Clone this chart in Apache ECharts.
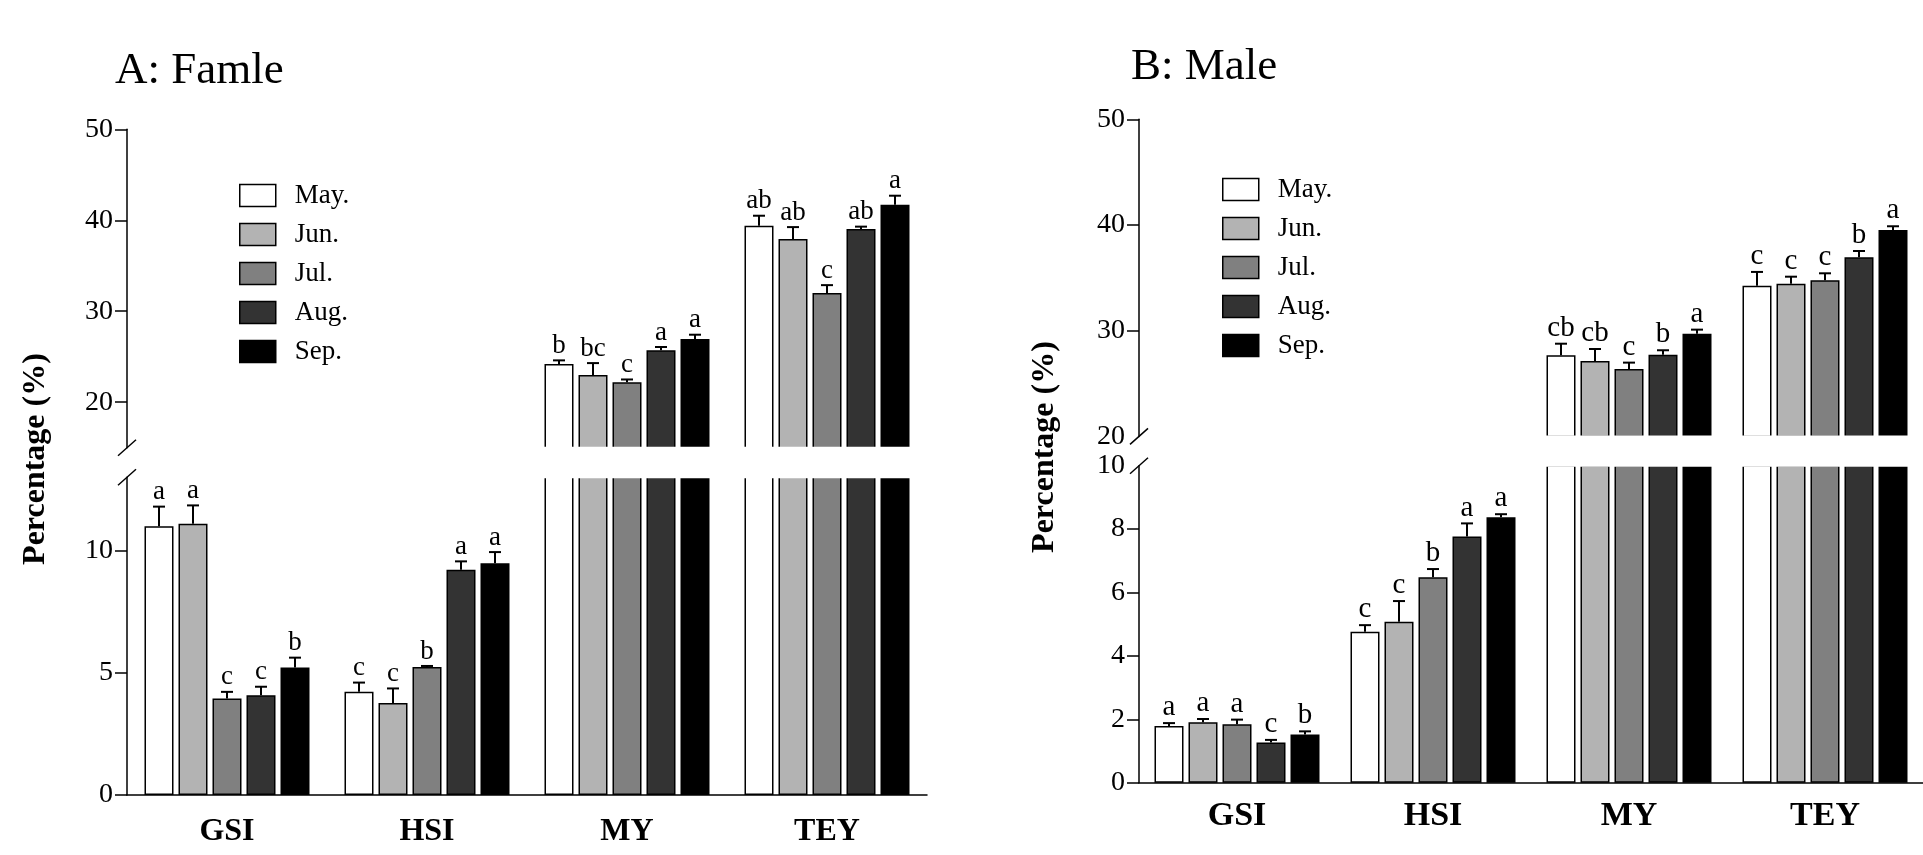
<!DOCTYPE html>
<html>
<head>
<meta charset="utf-8">
<script src="https://cdn.jsdelivr.net/npm/echarts@6/dist/echarts.min.js"></script>
<style>
  html, body { margin: 0; padding: 0; background: #fff; }
  #chart { width: 1923px; height: 855px; }
</style>
</head>
<body>
<div id="chart"></div>
<script>
const categories = ['GSI', 'HSI', 'MY', 'TEY'];
const months = ['May.', 'Jun.', 'Jul.', 'Aug.', 'Sep.'];

// A: female — one row per month, columns follow categories
const femaleMean = [
    [11.0, 4.22, 24.2, 39.4],
    [11.1, 3.76, 23.0, 37.95],
    [3.95, 5.24, 22.2, 32.0],
    [4.08, 9.22, 25.7, 39.05],
    [5.22, 9.48, 26.95, 41.7]
];
const femaleErr = [
    [0.8, 0.38, 0.4, 1.1],
    [0.75, 0.6, 1.3, 1.3],
    [0.27, 0.04, 0.3, 0.87],
    [0.35, 0.34, 0.37, 0.25],
    [0.4, 0.46, 0.47, 1.0]
];
const femaleLetters = [
    ['a', 'c', 'b', 'ab'],
    ['a', 'c', 'bc', 'ab'],
    ['c', 'b', 'c', 'c'],
    ['c', 'a', 'a', 'ab'],
    ['b', 'a', 'a', 'a']
];

// B: male
const maleMean = [
    [1.79, 4.76, 27.67, 34.26],
    [1.91, 5.08, 27.13, 34.45],
    [1.84, 6.48, 26.38, 34.77],
    [1.27, 7.77, 27.73, 36.94],
    [1.52, 8.37, 29.72, 39.53]
];
const maleErr = [
    [0.09, 0.21, 1.1, 1.3],
    [0.1, 0.65, 1.14, 0.66],
    [0.15, 0.26, 0.6, 0.66],
    [0.08, 0.41, 0.42, 0.6],
    [0.1, 0.1, 0.38, 0.35]
];
const maleLetters = [
    ['a', 'c', 'cb', 'c'],
    ['a', 'c', 'cb', 'c'],
    ['a', 'b', 'c', 'c'],
    ['c', 'a', 'b', 'b'],
    ['b', 'a', 'a', 'a']
];

// tick labels of the broken axes
const femaleUpperTicks = [20, 30, 40, 50];
const femaleLowerTicks = [0, 5, 10];
const maleUpperTicks = [20, 30, 40, 50];
const maleLowerTicks = [0, 2, 4, 6, 8, 10];

const monthColors = ['#ffffff', '#b3b3b3', '#808080', '#333333', '#000000'];
const FONT = '"Liberation Serif", "Times New Roman", serif';
const BAR_W = 29;
const BAR_GAP = 5;

const panels = [
    {
        title: 'A: Famle', titleLeft: 115, titleTop: 49,
        mean: femaleMean, err: femaleErr, letters: femaleLetters,
        left: 127, width: 800,
        upper: { top: 129.3, height: 318.4, min: 15, max: 50, labels: femaleUpperTicks, ticks: femaleUpperTicks },
        lower: { top: 477.3, height: 317.7, min: 0, max: 13, labels: femaleLowerTicks, ticks: femaleLowerTicks },
        tickFont: 28, catFont: 32, catMargin: 21, letterFont: 27,
        legendLeft: 239, legendTop: 182,
        yNameX: 36, yNameY: 459
    },
    {
        title: 'B: Male', titleLeft: 1131, titleTop: 45,
        mean: maleMean, err: maleErr, letters: maleLetters,
        left: 1139, width: 800,
        upper: { top: 119.3, height: 317.1, min: 20, max: 50, labels: maleUpperTicks, ticks: maleUpperTicks.slice(1) },
        lower: { top: 465.7, height: 317, min: 0, max: 10, labels: maleLowerTicks, ticks: maleLowerTicks.slice(0, -1) },
        tickFont: 28, catFont: 34, catMargin: 17, letterFont: 29,
        legendLeft: 1222, legendTop: 176,
        yNameX: 1045, yNameY: 447
    }
];

const grid = [], xAxis = [], yAxis = [], series = [], graphic = [], title = [], legend = [];

function errorRenderer(items, fontSize) {
    return function (params, api) {
        const it = items[params.dataIndex];
        const base = api.coord([it.cat, it.value]);
        const top = api.coord([it.cat, it.value + it.err]);
        const x = base[0] + (it.month - 2) * (BAR_W + BAR_GAP);
        return {
            type: 'group',
            children: [
                { type: 'line', shape: { x1: x, y1: base[1], x2: x, y2: top[1] }, style: { stroke: '#000', lineWidth: 2 } },
                { type: 'line', shape: { x1: x - 6, y1: top[1], x2: x + 6, y2: top[1] }, style: { stroke: '#000', lineWidth: 2 } },
                {
                    type: 'text', x: x, y: top[1] - 1,
                    style: { text: it.letter, fontFamily: FONT, fontSize: fontSize, fill: '#000', align: 'center', verticalAlign: 'bottom' }
                }
            ]
        };
    };
}

panels.forEach((p, pi) => {
    ['upper', 'lower'].forEach((part) => {
        const g = p[part];
        const idx = grid.length;
        const isLower = part === 'lower';
        grid.push({ left: p.left, width: p.width, top: g.top, height: g.height });
        xAxis.push({
            type: 'category', gridIndex: idx, data: categories,
            show: isLower,
            axisLine: { lineStyle: { color: '#000', width: 1.5 } },
            axisTick: { alignWithLabel: true, length: 13, lineStyle: { color: '#000', width: 1.5 } },
            axisLabel: { color: '#000', fontFamily: FONT, fontSize: p.catFont, fontWeight: 'bold', margin: p.catMargin }
        });
        yAxis.push({
            type: 'value', gridIndex: idx, min: g.min, max: g.max,
            splitLine: { show: false },
            axisLine: { show: true, lineStyle: { color: '#000', width: 1.5 } },
            axisTick: { show: true, length: 12, customValues: g.ticks, lineStyle: { color: '#000', width: 1.5 } },
            axisLabel: { color: '#000', fontFamily: FONT, fontSize: p.tickFont, margin: 14, customValues: g.labels }
        });

        const items = [];
        months.forEach((m, mi) => {
            series.push({
                name: m, type: 'bar', xAxisIndex: idx, yAxisIndex: idx,
                barWidth: BAR_W, barGap: (BAR_GAP / BAR_W * 100) + '%',
                clip: true,
                itemStyle: { color: monthColors[mi], borderColor: '#000', borderWidth: 1.5 },
                data: p.mean[mi].map(v => (v >= g.min ? v : '-'))
            });
            p.mean[mi].forEach((v, ci) => {
                // the error bar belongs to the part of the axis where the bar ends
                if (v >= g.min && v <= g.max) {
                    items.push({ cat: ci, month: mi, value: v, err: p.err[mi][ci], letter: p.letters[mi][ci] });
                }
            });
        });
        series.push({
            type: 'custom', xAxisIndex: idx, yAxisIndex: idx, z: 5,
            renderItem: errorRenderer(items, p.letterFont),
            encode: { x: 0, y: 1 },
            data: items.map(it => [it.cat, it.value + it.err])
        });
    });

    // white gap of the broken axis: hides the edges where the bars are cut
    const gapTop = p.upper.top + p.upper.height;
    const gapBottom = p.lower.top;
    graphic.push({
        type: 'rect', z: 100,
        shape: { x: p.left + 1, y: gapTop - 1, width: p.width, height: gapBottom - gapTop + 2 },
        style: { fill: '#fff' }
    });
    // axis break marks
    [gapTop, gapBottom].forEach(by => {
        graphic.push({
            type: 'line', z: 101,
            shape: { x1: p.left - 9, y1: by + 8, x2: p.left + 9, y2: by - 8 },
            style: { stroke: '#000', lineWidth: 1.5 }
        });
    });
    graphic.push({
        type: 'text', x: p.yNameX, y: p.yNameY, rotation: Math.PI / 2,
        style: { text: 'Percentage (%)', fontFamily: FONT, fontSize: 32, fontWeight: 'bold', fill: '#000', align: 'center', verticalAlign: 'middle' }
    });

    title.push({
        text: p.title, left: p.titleLeft, top: p.titleTop, padding: 0,
        textStyle: { color: '#000', fontFamily: FONT, fontSize: 45, fontWeight: 'normal' }
    });
    legend.push({
        data: months, orient: 'vertical', left: p.legendLeft, top: p.legendTop, padding: 0,
        icon: 'rect', itemWidth: 36, itemHeight: 22, itemGap: 12, selectedMode: false,
        itemStyle: { borderColor: '#000', borderWidth: 1.5 },
        textStyle: { color: '#000', fontFamily: FONT, fontSize: 27, padding: [0, 0, 0, 14] }
    });
});

const chart = echarts.init(document.getElementById('chart'));
chart.setOption({
    backgroundColor: '#fff',
    animation: false,
    title: title,
    legend: legend,
    grid: grid,
    xAxis: xAxis,
    yAxis: yAxis,
    series: series,
    graphic: graphic
});
</script>
</body>
</html>
